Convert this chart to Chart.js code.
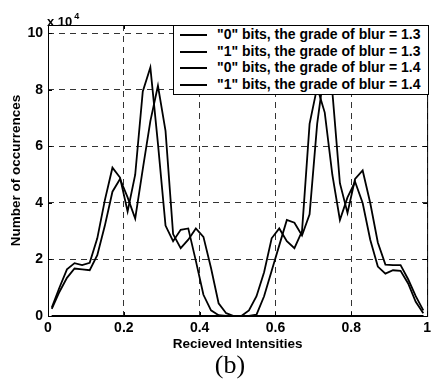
<!DOCTYPE html>
<html lang="en">
<head>
    <meta charset="UTF-8">
    <title>Recieved Intensities</title>
    <style type="text/css">
        body {
            margin: 0;
            background: #fff;
        }

        #wrap {
            position: relative;
            width: 435px;
            height: 380px;
            font-family: "Liberation Sans", Arial, sans-serif;
            font-weight: bold;
            color: #000;
        }

        #exponent {
            position: absolute;
            left: 47px;
            top: 8px;
            font-size: 13px;
            line-height: 16px;
        }

        #exponent sup {
            font-size: 9px;
            vertical-align: 7px;
            margin-left: 2px;
        }

        #legend {
            position: absolute;
            left: 173px;
            top: 25px;
            width: 256px;
            height: 70px;
            box-sizing: border-box;
            border: 1px solid #000;
            background: #fff;
            font-size: 14px;
        }

        .item {
            height: 16.5px;
            line-height: 16.5px;
            white-space: nowrap;
        }

        .swatch {
            display: inline-block;
            width: 27px;
            height: 2px;
            background: #000;
            vertical-align: middle;
            margin-left: 6px;
            margin-right: 10px;
        }

        #caption {
            position: absolute;
            left: 0;
            width: 460px;
            top: 350px;
            text-align: center;
            font-family: "Liberation Serif", "Times New Roman", serif;
            font-weight: normal;
            font-size: 26px;
        }
    </style>
</head>

<body>
    <div id="wrap">
        <canvas id="myChart" width="435" height="380"></canvas>
        <div id="exponent">x 10<sup>4</sup></div>
        <div id="legend"></div>
        <div id="caption">(b)</div>
    </div>

    <script src="https://cdn.jsdelivr.net/npm/chart.js"></script>

    <script>
        // bin centres of the received intensity histogram
        const intensity = [
            0.01, 0.03, 0.05, 0.07, 0.09, 0.11, 0.13, 0.15, 0.17, 0.19,
            0.21, 0.23, 0.25, 0.27, 0.29, 0.31, 0.33, 0.35, 0.37, 0.39,
            0.41, 0.43, 0.45, 0.47, 0.49, 0.51, 0.53, 0.55, 0.57, 0.59,
            0.61, 0.63, 0.65, 0.67, 0.69, 0.71, 0.73, 0.75, 0.77, 0.79,
            0.81, 0.83, 0.85, 0.87, 0.89, 0.91, 0.93, 0.95, 0.97, 0.99
        ];

        // occurrences, in units of 10^4
        const zeroBlur13 = [
            0.3, 1.0, 1.65, 1.87, 1.8, 1.88, 2.75, 4.1, 5.25, 4.9,
            3.7, 5.0, 7.95, 8.8, 6.1, 3.2, 2.65, 3.05, 3.1, 1.95,
            0.75, 0.2, 0.03, 0, 0, 0, 0, 0, 0, 0,
            0, 0, 0, 0, 0, 0, 0, 0, 0, 0,
            0, 0, 0, 0, 0, 0, 0, 0, 0, 0
        ];
        const oneBlur13 = [
            0, 0, 0, 0, 0, 0, 0, 0, 0, 0,
            0, 0, 0, 0, 0, 0, 0, 0, 0, 0,
            0, 0, 0, 0, 0, 0, 0, 0.05, 0.7, 1.6,
            2.5, 3.4, 3.3, 2.85, 3.6, 6.8, 8.8, 7.95, 4.7, 3.65,
            4.85, 5.15, 4.0, 2.6, 1.82, 1.8, 1.8, 1.3, 0.7, 0.2
        ];
        const zeroBlur14 = [
            0.25, 0.85, 1.35, 1.68, 1.65, 1.62, 2.15, 3.2, 4.4, 4.85,
            4.2, 3.45, 5.2, 6.9, 8.15, 6.55, 2.9, 2.4, 2.7, 3.1,
            2.8, 1.7, 0.45, 0.1, 0, 0, 0, 0, 0, 0,
            0, 0, 0, 0, 0, 0, 0, 0, 0, 0,
            0, 0, 0, 0, 0, 0, 0, 0, 0, 0
        ];
        const oneBlur14 = [
            0, 0, 0, 0, 0, 0, 0, 0, 0, 0,
            0, 0, 0, 0, 0, 0, 0, 0, 0, 0,
            0, 0, 0, 0, 0, 0, 0.2, 0.7, 1.55, 2.75,
            3.1, 2.65, 2.4, 3.0, 6.8, 8.1, 7.2, 5.0, 3.4, 4.2,
            4.75, 4.0, 2.7, 1.75, 1.5, 1.62, 1.6, 1.15, 0.5, 0.1
        ];

        const seriesLabels = [
            '"0" bits, the grade of blur = 1.3',
            '"1" bits, the grade of blur = 1.3',
            '"0" bits, the grade of blur = 1.4',
            '"1" bits, the grade of blur = 1.4'
        ];
        const seriesValues = [zeroBlur13, oneBlur13, zeroBlur14, oneBlur14];

        const xTicks = [0, 0.2, 0.4, 0.6, 0.8, 1];
        const yTicks = [0, 2, 4, 6, 8, 10];

        const tickFont = { family: '"Liberation Sans", Arial, sans-serif', size: 14, weight: 'bold' };
        const titleFont = { family: '"Liberation Sans", Arial, sans-serif', size: 13.5, weight: 'bold' };

        function toPoints(values) {
            return intensity.map((x, i) => ({ x: x, y: values[i] }));
        }

        // plain labels: 0, 0.2 ... 1
        function shortLabel(value) {
            return String(+value.toFixed(2));
        }

        // box around the axes with small inward ticks on every side
        const axesBox = {
            id: 'axesBox',
            afterDatasetsDraw(chart) {
                const { ctx, chartArea: a, scales } = chart;
                ctx.save();
                ctx.strokeStyle = '#000';
                ctx.lineWidth = 1;
                ctx.setLineDash([]);
                ctx.strokeRect(a.left + 0.5, a.top + 0.5, a.right - a.left, a.bottom - a.top);
                ctx.beginPath();
                xTicks.forEach(v => {
                    const px = Math.round(scales.x.getPixelForValue(v)) + 0.5;
                    ctx.moveTo(px, a.bottom); ctx.lineTo(px, a.bottom - 4);
                    ctx.moveTo(px, a.top); ctx.lineTo(px, a.top + 4);
                });
                yTicks.forEach(v => {
                    const py = Math.round(scales.y.getPixelForValue(v)) + 0.5;
                    ctx.moveTo(a.left, py); ctx.lineTo(a.left + 4, py);
                    ctx.moveTo(a.right, py); ctx.lineTo(a.right - 4, py);
                });
                ctx.stroke();
                ctx.restore();
            }
        };

        const config = {
            type: 'line',
            data: {
                datasets: seriesValues.map((vals, i) => ({
                    label: seriesLabels[i],
                    data: toPoints(vals),
                    borderColor: '#000',
                    borderWidth: 1.8,
                    pointRadius: 0,
                    tension: 0,
                    fill: false
                }))
            },
            options: {
                responsive: false,
                animation: false,
                layout: {
                    padding: { left: 0, top: 25, right: 4, bottom: 28 }
                },
                plugins: {
                    legend: { display: false },
                    tooltip: { enabled: false }
                },
                scales: {
                    x: {
                        type: 'linear',
                        min: 0,
                        max: 1,
                        afterFit: scale => { scale.height = 36; },
                        afterBuildTicks: scale => { scale.ticks = xTicks.map(v => ({ value: v })); },
                        ticks: { font: tickFont, color: '#000', padding: 4, maxRotation: 0, callback: shortLabel },
                        grid: { color: '#333', lineWidth: 1, drawTicks: false },
                        border: { display: false, dash: [6, 5] },
                        title: {
                            display: true,
                            text: 'Recieved Intensities',
                            font: titleFont,
                            color: '#000',
                            padding: 0
                        }
                    },
                    y: {
                        type: 'linear',
                        min: 0,
                        max: 10.3,
                        afterFit: scale => { scale.width = 48; },
                        afterBuildTicks: scale => { scale.ticks = yTicks.map(v => ({ value: v })); },
                        ticks: { font: tickFont, color: '#000', padding: 5, callback: shortLabel },
                        grid: { color: '#333', lineWidth: 1, drawTicks: false },
                        border: { display: false, dash: [6, 5] },
                        title: {
                            display: true,
                            text: 'Number of occurrences',
                            font: titleFont,
                            color: '#000',
                            padding: { top: 8, bottom: 0 }
                        }
                    }
                }
            },
            plugins: [axesBox]
        };

        const myChart = new Chart(document.getElementById('myChart'), config);

        // legend entries built from the datasets
        const legendBox = document.getElementById('legend');
        myChart.data.datasets.forEach(ds => {
            const row = document.createElement('div');
            row.className = 'item';
            const sw = document.createElement('span');
            sw.className = 'swatch';
            sw.style.background = ds.borderColor;
            row.appendChild(sw);
            row.appendChild(document.createTextNode(ds.label));
            legendBox.appendChild(row);
        });
    </script>
</body>

</html>
